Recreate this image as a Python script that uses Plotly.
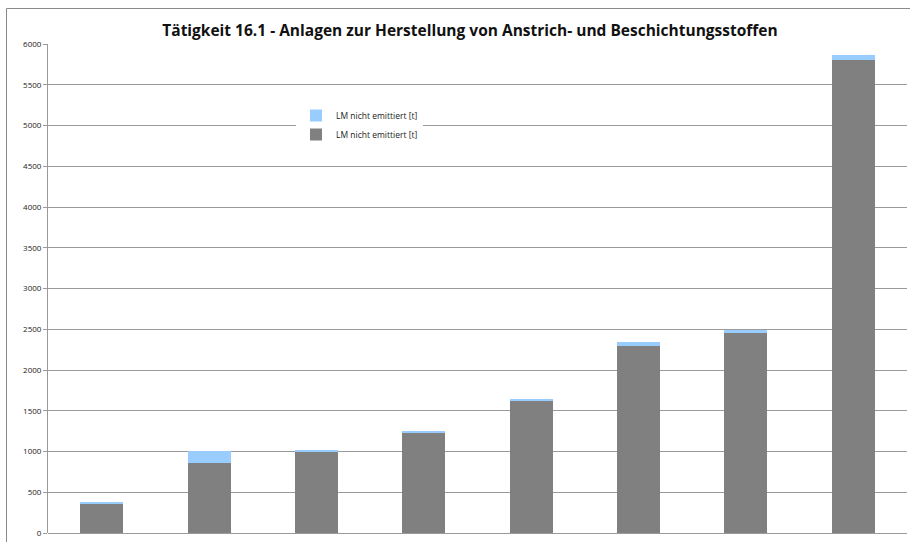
import plotly.graph_objects as go

categories = ["Anlage 1", "Anlage 2", "Anlage 3", "Anlage 4",
              "Anlage 5", "Anlage 6", "Anlage 7", "Anlage 8"]
grey_values = [365, 859, 994, 1235, 1623, 2294, 2454, 5807]
blue_values = [7, 147, 24, 8, 9, 49, 37, 62]
series_name = "LM nicht emittiert [t]"
y_ticks = list(range(0, 6001, 500))

fig = go.Figure()
fig.add_trace(go.Bar(x=categories, y=grey_values, name=series_name,
                     marker=dict(color="#808080", line=dict(width=0))))
fig.add_trace(go.Bar(x=categories, y=blue_values, name=series_name,
                     marker=dict(color="#99CCFF", line=dict(width=0))))

W, H = 910, 542
L, R, T, B = 48, 3, 44, 9
pw, ph = W - L - R, H - T - B

def px_to_paper_x(px):
    return (px - L) / pw

def px_to_paper_y(py):
    return (H - B - py) / ph

fig.update_layout(
    width=W, height=H,
    margin=dict(l=L, r=R, t=T, b=B, pad=0, autoexpand=False),
    barmode="stack", bargap=0.6,
    paper_bgcolor="white", plot_bgcolor="white",
    font=dict(family="Open Sans", color="#222"),
    title=dict(text="<b>Tätigkeit 16.1 - Anlagen zur Herstellung von Anstrich- und Beschichtungsstoffen</b>",
               x=px_to_paper_x(470), xref="paper", xanchor="center",
               y=1 - 31 / H, yanchor="middle",
               font=dict(size=15.5, family="Open Sans", color="#111")),
    showlegend=True,
    legend=dict(x=px_to_paper_x(296), y=px_to_paper_y(101), xanchor="left", yanchor="top",
                bgcolor="white", font=dict(size=8.5, family="Open Sans"),
                itemwidth=30, tracegroupgap=0),
    xaxis=dict(showticklabels=False, ticks="", showgrid=False, zeroline=False,
               showline=False, fixedrange=True),
    yaxis=dict(range=[0, 6000], tickvals=y_ticks, ticktext=[str(v) for v in y_ticks],
               showgrid=True, gridcolor="#9a9a9a", gridwidth=1,
               zeroline=True, zerolinecolor="#9a9a9a", zerolinewidth=1,
               showline=True, linecolor="#9a9a9a", linewidth=1,
               ticks="outside", ticklen=4, tickcolor="#9a9a9a",
               tickfont=dict(size=8, family="Open Sans", color="#222"),
               fixedrange=True, automargin=False),
    shapes=[dict(type="rect", xref="paper", yref="paper",
                 x0=px_to_paper_x(6.5), x1=px_to_paper_x(W + 5),
                 y0=px_to_paper_y(H + 5), y1=px_to_paper_y(8.5),
                 line=dict(color="#8a8a8a", width=1), fillcolor="rgba(0,0,0,0)",
                 layer="below")],
)

fig.write_html("out.html", config={"displayModeBar": False},
               post_script="document.body.style.margin='0';")
